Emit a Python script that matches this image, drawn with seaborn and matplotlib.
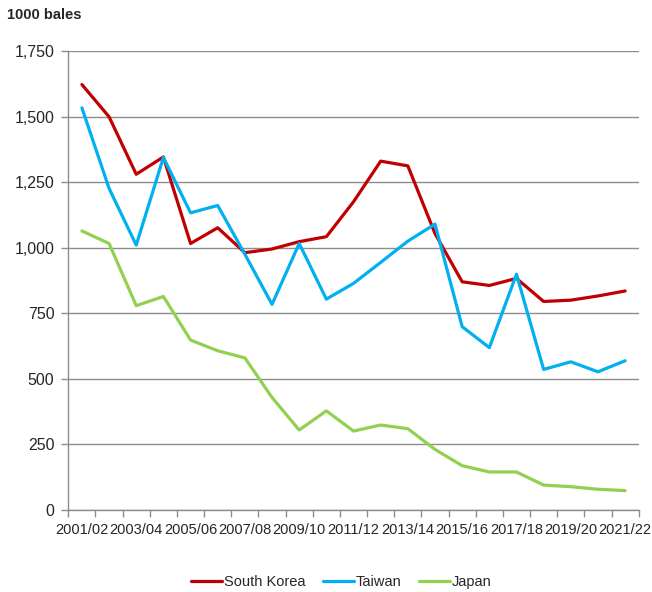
import numpy as np
import pandas as pd
import matplotlib
matplotlib.use('Agg')
import matplotlib.pyplot as plt
from matplotlib.ticker import FixedLocator, FuncFormatter
import seaborn as sns

# season labels (2001/02 .. 2021/22)
seasons = [f'{y}/{str(y + 1)[-2:]}' for y in range(2001, 2022)]

# 1000 bales
south_korea = [1622, 1499, 1280, 1346, 1016, 1076, 981, 995, 1023, 1042, 1175,
               1330, 1312, 1054, 870, 856, 883, 795, 800, 816, 835]
taiwan = [1533, 1226, 1010, 1344, 1133, 1161, 975, 784, 1016, 804, 864,
          944, 1025, 1090, 699, 619, 899, 536, 565, 527, 569]
japan = [1064, 1016, 779, 814, 648, 607, 580, 429, 305, 378, 301,
         324, 310, 231, 169, 145, 145, 95, 89, 79, 74]

countries = ['South Korea', 'Taiwan', 'Japan']
colors = ['#C00000', '#00B0F0', '#92D050']

df = pd.DataFrame({
    'idx': list(range(len(seasons))) * 3,
    'value': south_korea + taiwan + japan,
    'country': np.repeat(countries, len(seasons)),
})

sns.set_style('white')
plt.rcParams['font.family'] = ['Liberation Sans', 'DejaVu Sans']

fig = plt.figure(figsize=(6.52, 5.92), dpi=100)
ax = fig.add_axes([0.1048, 0.1385, 0.9796 - 0.1048, 0.9139 - 0.1385])

sns.lineplot(data=df, x='idx', y='value', hue='country', hue_order=countries,
             palette=colors, linewidth=2.3, ax=ax, legend=True)

ax.set_xlim(-0.5, len(seasons) - 0.5)
ax.set_ylim(0, 1750)
ax.set_yticks(np.arange(0, 1751, 250))
ax.yaxis.set_major_formatter(FuncFormatter(lambda v, p: f'{int(v):,}'))
ax.grid(axis='y', color='#8c8c8c', linewidth=1.0)
ax.set_axisbelow(True)

ax.set_xticks(range(0, len(seasons), 2))
ax.set_xticklabels(seasons[::2])
ax.xaxis.set_minor_locator(FixedLocator(np.arange(-0.5, len(seasons), 1)))
ax.tick_params(axis='x', which='major', length=0, labelsize=10.5, pad=9)
ax.tick_params(axis='x', which='minor', length=5, width=1, color='#8c8c8c', direction='out', bottom=True)
ax.tick_params(axis='y', length=5, width=1, color='#8c8c8c', direction='out', left=True, labelsize=11.5, pad=5)

for s in ['top', 'right']:
    ax.spines[s].set_visible(False)
for s in ['left', 'bottom']:
    ax.spines[s].set_color('#8c8c8c')
    ax.spines[s].set_linewidth(1.0)

ax.set_xlabel('')
ax.set_ylabel('')

fig.text(0.011, 0.975, '1000 bales', fontsize=10.5, fontweight='bold', va='center', ha='left')

handles, labels = ax.get_legend_handles_labels()
ax.legend(handles, labels, loc='center', bbox_to_anchor=(0.479, -0.156), ncol=3,
          frameon=False, fontsize=10.5, handlelength=2.1, handletextpad=0.15, columnspacing=1.2)

fig.savefig('out.png', dpi=100)
